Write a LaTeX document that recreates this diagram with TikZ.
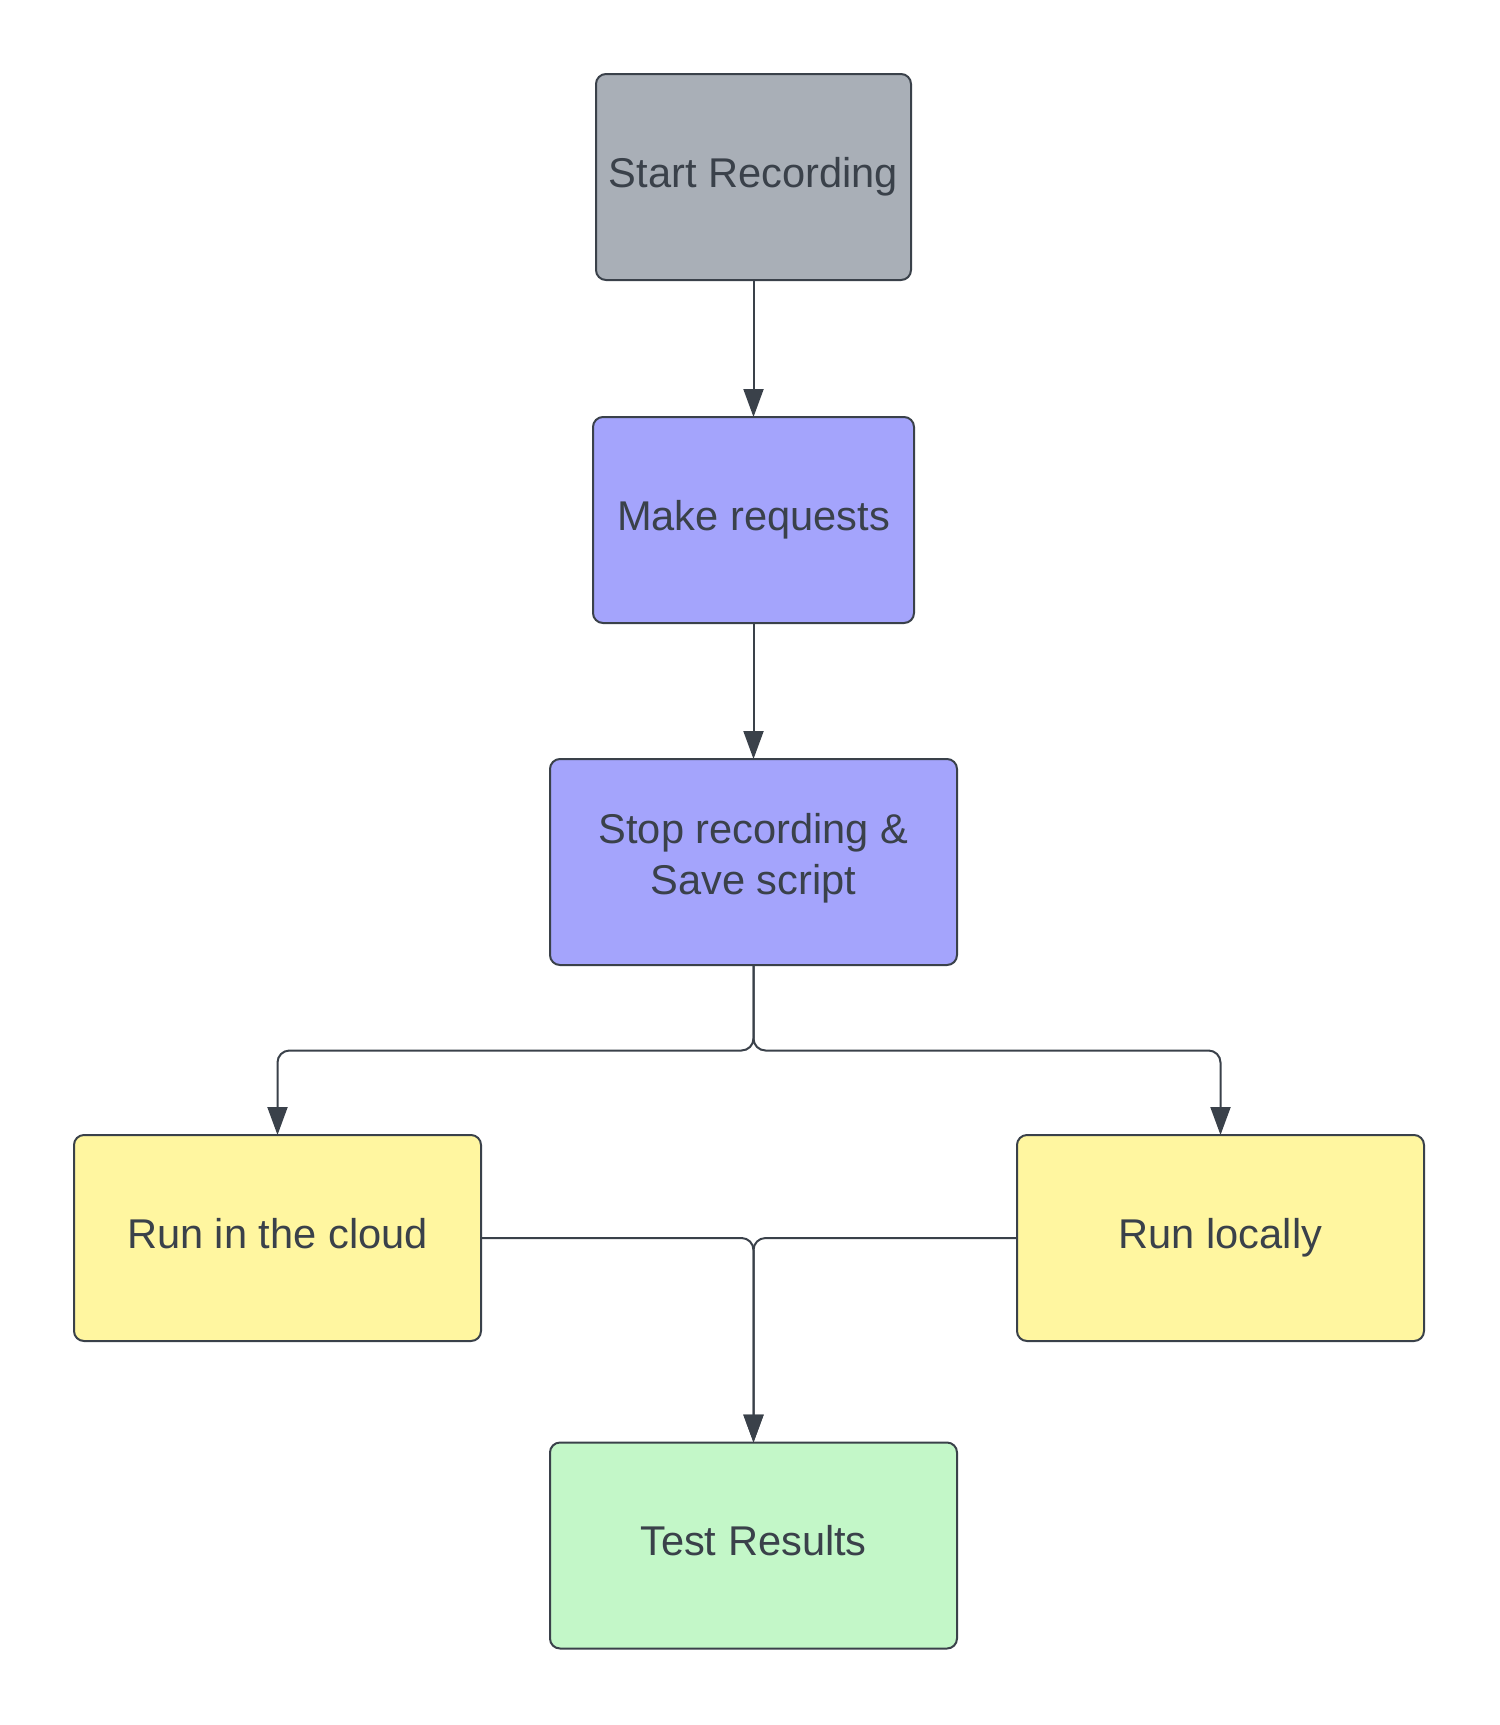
\documentclass[tikz,border=0pt]{standalone}
\usepackage{fontspec}
\setmainfont{Liberation Sans}
\usetikzlibrary{arrows.meta}
\definecolor{ink}{HTML}{3A414A}
\definecolor{cgray}{HTML}{A9AFB7}
\definecolor{cpurple}{HTML}{A4A4FC}
\definecolor{cyellow}{HTML}{FFF6A0}
\definecolor{cgreen}{HTML}{C3F7C8}
\tikzset{
  box/.style={draw=ink, line width=1pt, rounded corners=5pt, outer sep=0pt,
    minimum height=103pt, minimum width=203.5pt, align=center, text=ink,
    font=\fontsize{20.8}{25.5}\selectfont},
  conn/.style={draw=ink, line width=1pt, rounded corners=6pt},
  arr/.style={conn, -{Triangle[length=14pt,width=10pt]}}
}
\begin{document}
\begin{tikzpicture}[x=0.5pt,y=-0.5pt]
\useasboundingbox (0,0) rectangle (1500,1725);
\node[box, fill=cgray, minimum width=157.5pt] (start) at (753.5,177) {\strut Start Recording\strut};
\node[box, fill=cpurple, minimum width=160.5pt] (make) at (753.5,520) {\strut Make requests\strut};
\node[box, fill=cpurple] (stop) at (753.5,862) {\strut Stop recording \&\strut\\\strut Save script\rule[-11pt]{0pt}{0pt}};
\node[box, fill=cyellow] (cloud) at (277.5,1238) {\strut Run in the cloud\strut};
\node[box, fill=cyellow] (local) at (1220.5,1238) {\strut Run locally\strut};
\node[box, fill=cgreen] (test) at (753.5,1545.5) {\strut Test Results\strut};
\coordinate (fork) at (753.5,1050.5);
\draw[arr] (start.south) -- (make.north);
\draw[arr] (make.south) -- (stop.north);
\draw[arr] (stop.south) -- (fork) -| (cloud.north);
\draw[arr] (stop.south) -- (fork) -| (local.north);
\draw[arr] (cloud.east) -| (test.north);
\draw[arr] (local.west) -| (test.north);
\end{tikzpicture}
\end{document}
